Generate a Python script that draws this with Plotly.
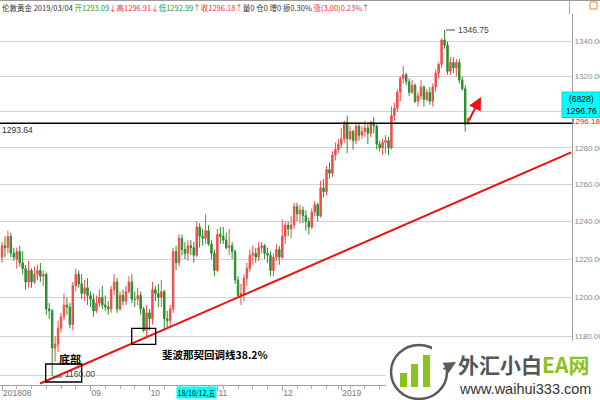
import plotly.graph_objects as go
import pandas as pd

# ---------------- data ----------------
holidays = ["2018-12-25", "2019-01-01"]
dates = [d for d in pd.bdate_range("2018-07-23", "2019-03-04")
         if d.strftime("%Y-%m-%d") not in holidays]

opens = [1221, 1227, 1226, 1232, 1223, 1220, 1224,
         1218, 1215, 1208, 1214, 1208, 1212, 1214, 1211, 1212, 1194, 1193, 1174, 1176, 1184, 1190, 1196, 1195, 1186, 1206, 1212, 1207, 1202, 1205,
         1201, 1199, 1193, 1197, 1200, 1196, 1195, 1194, 1204, 1208, 1194, 1201, 1198, 1203, 1208, 1199, 1199, 1201, 1194, 1183,
         1192, 1189, 1204, 1202, 1200, 1203, 1189, 1188, 1194, 1224, 1218, 1231, 1225, 1223, 1227, 1226, 1222, 1237, 1232, 1231, 1235, 1228, 1223,
         1214, 1233, 1232, 1230, 1226, 1227, 1224, 1209, 1201, 1202, 1210, 1215, 1222, 1223, 1221, 1226, 1227, 1223, 1222, 1214, 1221, 1225,
         1221, 1232, 1238, 1236, 1238, 1248, 1244, 1246, 1243, 1240, 1237, 1245, 1249, 1243, 1258, 1256, 1268, 1266, 1276, 1279,
         1282, 1285, 1294, 1285, 1289, 1284, 1292, 1287, 1289, 1291, 1288, 1294, 1292, 1282, 1280, 1283, 1284, 1280, 1298, 1302, 1311, 1319,
         1321, 1317, 1311, 1315, 1306, 1309, 1314, 1307, 1311, 1306, 1314, 1322, 1327, 1341, 1338, 1323, 1328, 1325, 1328, 1318,
         1313, 1293.09]
highs = [1229, 1232, 1235, 1234, 1226, 1226, 1227,
         1224, 1217, 1219, 1215, 1216, 1217, 1218, 1214, 1213, 1197, 1194, 1180, 1188, 1192, 1202, 1200, 1197, 1208, 1215, 1214, 1212, 1209, 1210,
         1203, 1202, 1201, 1204, 1206, 1201, 1198, 1206, 1212, 1210, 1203, 1204, 1206, 1211, 1212, 1203, 1205, 1203, 1195, 1196,
         1194, 1208, 1206, 1207, 1209, 1204, 1193, 1196, 1226, 1227, 1233, 1233, 1229, 1230, 1230, 1229, 1240, 1239, 1236, 1244, 1238, 1230, 1225,
         1236, 1237, 1237, 1234, 1236, 1229, 1225, 1211, 1207, 1212, 1218, 1225, 1227, 1226, 1229, 1229, 1228, 1226, 1224, 1223, 1228, 1227,
         1241, 1240, 1240, 1243, 1250, 1250, 1249, 1248, 1246, 1242, 1247, 1251, 1250, 1262, 1263, 1270, 1272, 1278, 1283, 1285,
         1291, 1295, 1298, 1292, 1290, 1294, 1294, 1292, 1295, 1293, 1295, 1297, 1293, 1284, 1285, 1287, 1286, 1303, 1305, 1313, 1320, 1326,
         1322, 1319, 1318, 1316, 1311, 1318, 1315, 1313, 1314, 1316, 1324, 1328, 1342, 1346.75, 1340, 1331, 1331, 1330, 1330, 1320,
         1315, 1296.91]
lows = [1218, 1221, 1223, 1221, 1219, 1215, 1216,
        1212, 1204, 1205, 1205, 1207, 1209, 1208, 1206, 1191, 1189, 1160, 1167, 1172, 1182, 1188, 1191, 1184, 1183, 1203, 1205, 1199, 1198, 1196,
        1195, 1190, 1192, 1195, 1194, 1193, 1191, 1192, 1201, 1192, 1193, 1196, 1196, 1202, 1197, 1195, 1196, 1191, 1182, 1180,
        1183, 1186, 1198, 1195, 1195, 1183, 1184, 1185, 1192, 1214, 1216, 1222, 1220, 1219, 1222, 1218, 1221, 1226, 1227, 1228, 1227, 1220, 1211,
        1213, 1228, 1228, 1225, 1222, 1220, 1207, 1200, 1196, 1198, 1206, 1213, 1217, 1218, 1219, 1223, 1220, 1218, 1211, 1211, 1219, 1217,
        1220, 1228, 1232, 1231, 1236, 1240, 1239, 1239, 1235, 1233, 1236, 1243, 1240, 1242, 1253, 1254, 1263, 1264, 1273, 1277,
        1280, 1283, 1277, 1284, 1279, 1282, 1284, 1285, 1286, 1282, 1286, 1288, 1279, 1278, 1276, 1277, 1276, 1279, 1295, 1300, 1306, 1316,
        1315, 1309, 1310, 1305, 1303, 1307, 1303, 1306, 1304, 1303, 1311, 1319, 1325, 1336, 1321, 1321, 1322, 1320, 1316, 1312,
        1289, 1292.99]
closes = [1227, 1226, 1232, 1223, 1221, 1224, 1218,
          1215, 1208, 1214, 1208, 1212, 1214, 1211, 1212, 1194, 1193, 1174, 1176, 1184, 1190, 1196, 1195, 1186, 1206, 1212, 1207, 1202, 1205, 1201,
          1199, 1193, 1197, 1200, 1196, 1195, 1194, 1204, 1208, 1194, 1201, 1198, 1203, 1208, 1199, 1199, 1201, 1194, 1183, 1192,
          1189, 1204, 1202, 1200, 1203, 1189, 1188, 1194, 1224, 1218, 1231, 1225, 1223, 1227, 1226, 1222, 1237, 1232, 1231, 1235, 1228, 1223, 1214,
          1233, 1232, 1230, 1226, 1227, 1224, 1209, 1201, 1202, 1210, 1215, 1222, 1223, 1221, 1226, 1227, 1223, 1222, 1214, 1221, 1225, 1221,
          1232, 1238, 1236, 1238, 1248, 1244, 1246, 1243, 1240, 1237, 1245, 1249, 1243, 1258, 1256, 1268, 1266, 1276, 1279, 1282,
          1285, 1294, 1285, 1289, 1284, 1292, 1287, 1289, 1291, 1288, 1294, 1292, 1282, 1280, 1283, 1284, 1280, 1298, 1302, 1311, 1319, 1321,
          1317, 1311, 1315, 1306, 1309, 1314, 1307, 1311, 1306, 1314, 1322, 1327, 1341, 1338, 1323, 1328, 1325, 1328, 1318, 1313,
          1293, 1296.18]

month_tick_idx = [0, 30, 50, 73, 95, 115, 137]
month_tick_text = ["201808", "09", "10", "11", "12", "2019", "02"]
y_ticks = [1160, 1180, 1200, 1220, 1240, 1260, 1280, 1300, 1320, 1340]

support_level = 1293.64
high_value = 1346.75
low_value = 1160.00
trend_idx = [12.9, 192.9]
trend_price = [1156.2, 1277.5]
cursor_idx = 59
cursor_label = "18/10/12,五"

x_range = [-0.68, 193.2]
y_range_log = [3.06275, 3.13229]

idx = list(range(len(dates)))
mondays = [i for i, d in enumerate(dates) if d.weekday() == 0]

# ---------------- figure ----------------
W_PLOT, TOP, BOT = 572, 14, 385
def px(x):
    return x / W_PLOT
def py(y):
    return (BOT - y) / (BOT - TOP)

RED = "#f24b4b"
GREEN = "#2a8f2a"
CJK = "Noto Sans CJK SC"

fig = go.Figure()
fig.add_trace(go.Candlestick(
    x=idx, open=opens, high=highs, low=lows, close=closes,
    increasing=dict(line=dict(color=RED, width=1), fillcolor=RED),
    decreasing=dict(line=dict(color=GREEN, width=1), fillcolor=GREEN),
    whiskerwidth=0, showlegend=False, hoverinfo="skip"))

fig.add_trace(go.Scatter(x=x_range, y=[support_level, support_level], mode="lines",
                         line=dict(color="#000000", width=1.6), showlegend=False, hoverinfo="skip"))
fig.add_trace(go.Scatter(x=trend_idx, y=trend_price, mode="lines",
                         line=dict(color="#ee1111", width=2), showlegend=False, hoverinfo="skip"))

shapes = []
# boxes
shapes.append(dict(type="rect", xref="paper", yref="paper", x0=px(45.7), x1=px(81.7), y0=py(382), y1=py(364),
                   line=dict(color="#000", width=1.3)))
shapes.append(dict(type="rect", xref="paper", yref="paper", x0=px(131.7), x1=px(155.7), y0=py(344.3), y1=py(328.3),
                   line=dict(color="#000", width=1.3)))
# high / low markers
shapes.append(dict(type="line", xref="paper", yref="paper", x0=px(446), x1=px(455), y0=py(30), y1=py(30),
                   line=dict(color="#444", width=1)))
shapes.append(dict(type="line", xref="paper", yref="paper", x0=px(53), x1=px(62), y0=py(377), y1=py(377),
                   line=dict(color="#444", width=1)))
# top frame
shapes.append(dict(type="line", xref="paper", yref="paper", x0=0, x1=px(600), y0=py(0.5), y1=py(0.5),
                   line=dict(color="#999", width=1)))
shapes.append(dict(type="line", xref="paper", yref="paper", x0=px(569.5), x1=px(569.5), y0=py(0), y1=py(14),
                   line=dict(color="#aaa", width=1)))
shapes.append(dict(type="rect", xref="paper", yref="paper", x0=px(590), x1=px(597), y0=py(9), y1=py(2),
                   line=dict(color="#f08a3a", width=1)))
# price box
shapes.append(dict(type="rect", xref="paper", yref="paper", x0=px(562), x1=px(600), y0=py(117.5), y1=py(92),
                   line=dict(color="#00d8d8", width=1), fillcolor="#00ffff", layer="above"))
# logo background
shapes.append(dict(type="rect", xref="paper", yref="paper", x0=px(386), x1=px(601), y0=py(401), y1=py(341),
                   line=dict(width=0), fillcolor="#ffffff", layer="above"))
shapes.append(dict(type="circle", xref="paper", yref="paper", x0=px(391), x1=px(447), y0=py(399), y1=py(345),
                   line=dict(color="#5a5a5a", width=2.5), layer="above"))
shapes.append(dict(type="rect", xref="paper", yref="paper", x0=px(432), x1=px(452), y0=py(366), y1=py(344),
                   line=dict(width=0), fillcolor="#ffffff", layer="above"))
for (x0, x1, ytop) in [(400, 407, 373), (411, 418, 364), (423, 430, 355)]:
    shapes.append(dict(type="rect", xref="paper", yref="paper", x0=px(x0), x1=px(x1), y0=py(387), y1=py(ytop),
                       line=dict(width=0), fillcolor="#8cc21f", layer="above"))

ann = []
title_html = ("<span style='color:#333'>伦敦黄金 2019/03/04 </span>"
              "<span style='color:#1f9a1f'>开1293.09</span><span style='color:#e33'>↓</span>"
              "<span style='color:#e33'>高1296.91↓</span>"
              "<span style='color:#1f9a1f'>低1292.99</span><span style='color:#e33'>↑</span>"
              "<span style='color:#e33'>收1296.18↑</span>"
              "<span style='color:#333'>量0 仓0 增0 振0.30% </span>"
              "<span style='color:#e33'>涨(3.00)0.23%↑</span>")
ann.append(dict(text=title_html, xref="paper", yref="paper", x=0, y=py(7), xanchor="left", yanchor="middle",
                showarrow=False, font=dict(family=CJK, size=7.5)))
ann.append(dict(text=f"{high_value:.2f}", xref="paper", yref="paper", x=px(456), y=py(30), xanchor="left",
                yanchor="middle", showarrow=False, font=dict(family="Arial", size=8.5, color="#444")))
ann.append(dict(text=f"{low_value:.2f}", xref="paper", yref="paper", x=px(63), y=py(374), xanchor="left",
                yanchor="middle", showarrow=False, font=dict(family="Arial", size=8.5, color="#444")))
ann.append(dict(text=f"{support_level:.2f}", xref="paper", yref="paper", x=px(0), y=py(130), xanchor="left",
                yanchor="middle", showarrow=False, font=dict(family="Arial", size=8.5, color="#333")))
ann.append(dict(text="<b>底部</b>", xref="paper", yref="paper", x=px(70), y=py(358.5), xanchor="center",
                yanchor="middle", showarrow=False, font=dict(family=CJK, size=11, color="#000")))
ann.append(dict(text="<b>斐波那契回调线38.2%</b>", xref="paper", yref="paper", x=px(215), y=py(354.5),
                xanchor="center", yanchor="middle", showarrow=False, font=dict(family=CJK, size=10.5, color="#000")))
# red arrow
ann.append(dict(text="", xref="paper", yref="paper", x=px(481), y=py(97), ax=-13, ay=25, showarrow=True,
                arrowhead=2, arrowsize=1.3, arrowwidth=2, arrowcolor="#ee1111"))
# right price labels
ann.append(dict(text="1296.18", xref="paper", yref="paper", x=px(585), y=py(122), xanchor="center",
                yanchor="middle", showarrow=False, font=dict(family="Arial", size=8, color="#ee2222")))
ann.append(dict(text="(6828)", xref="paper", yref="paper", x=px(581), y=py(98.5), xanchor="center",
                yanchor="middle", showarrow=False, font=dict(family="Arial", size=8.5, color="#000")))
ann.append(dict(text="1296.76", xref="paper", yref="paper", x=px(581), y=py(110.5), xanchor="center",
                yanchor="middle", showarrow=False, font=dict(family="Arial", size=8.5, color="#000")))
# cursor date label
ann.append(dict(text=cursor_label, x=cursor_idx, xref="x", yref="paper", y=py(392.5), xanchor="left",
                yanchor="middle", showarrow=False, bgcolor="#00ffff", borderpad=0.5,
                font=dict(family=CJK, size=7, color="#000")))
# logo text
ann.append(dict(text="<b>外汇小白</b><span style='color:#8cc21f'><b>EA网</b></span>", xref="paper", yref="paper",
                x=px(456), y=py(364), xanchor="left", yanchor="middle", showarrow=False,
                font=dict(family=CJK, size=21, color="#555")))
ann.append(dict(text="www.waihui333.com", xref="paper", yref="paper", x=px(457), y=py(388.5), xanchor="left",
                yanchor="middle", showarrow=False, font=dict(family="Arial", size=14.5, color="#333")))
ann.append(dict(text="", xref="paper", yref="paper", x=px(456), y=py(362), ax=-14, ay=8, showarrow=True,
                arrowhead=2, arrowsize=1.2, arrowwidth=2, arrowcolor="#5a5a5a"))

fig.update_layout(
    width=600, height=400,
    margin=dict(l=0, r=28, t=TOP, b=15, pad=0),
    paper_bgcolor="#ffffff", plot_bgcolor="#ffffff",
    shapes=shapes, annotations=ann, showlegend=False,
    xaxis=dict(range=x_range, rangeslider=dict(visible=False), showgrid=False, zeroline=False, automargin=False,
               showline=True, linecolor="#a0a0a0", linewidth=1, mirror=False,
               tickmode="array", tickvals=month_tick_idx, ticktext=month_tick_text,
               ticks="outside", ticklen=5, tickcolor="#a0a0a0", ticklabelposition="outside right",
               tickfont=dict(family="Arial", size=8.5, color="#777"),
               minor=dict(tickmode="array", tickvals=mondays, ticks="outside", ticklen=3, tickcolor="#b0b0b0",
                          showgrid=False)),
    yaxis=dict(type="log", range=y_range_log, side="right", showgrid=True, gridcolor="#d3d3d3", gridwidth=1,
               zeroline=False, showline=True, linecolor="#a0a0a0", linewidth=1, automargin=False,
               tickmode="array", tickvals=y_ticks, ticktext=[f"{v:.2f}" for v in y_ticks],
               ticks="", ticklabelstandoff=0,
               tickfont=dict(family="Liberation Sans Narrow, Arial Narrow, Arial", size=8, color="#888")),
)

fig.write_html("out.html", config={"displayModeBar": False, "staticPlot": True},
               post_script="document.body.style.margin='0';document.body.style.overflow='hidden';")
